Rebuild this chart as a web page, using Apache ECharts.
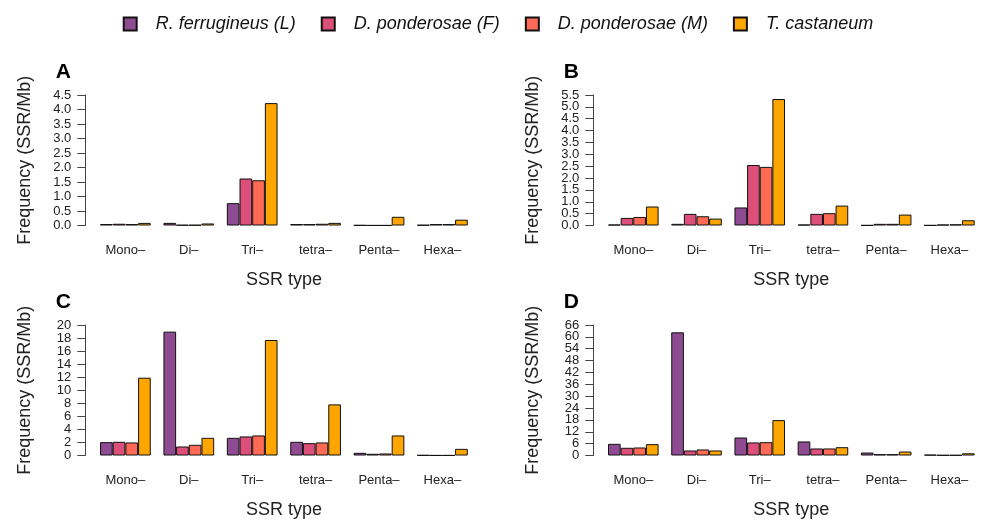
<!DOCTYPE html>
<html>
<head>
<meta charset="utf-8">
<script src="https://cdn.jsdelivr.net/npm/echarts@6/dist/echarts.min.js"></script>
<style>
  html, body { margin: 0; padding: 0; background: #fff; }
  #chart { width: 981px; height: 523px; }
</style>
</head>
<body>
<div id="chart"></div>
<script>
// SSR types on the x axis
const categories = ['Mono–', 'Di–', 'Tri–', 'tetra–', 'Penta–', 'Hexa–'];
const species = ['R. ferrugineus (L)', 'D. ponderosae (F)', 'D. ponderosae (M)', 'T. castaneum'];
const colors = ['#8E4B91', '#DC4F7B', '#FF6A55', '#FFA500'];

// one row per species, one value per SSR type (SSR/Mb)
const panelA = [
  [0.05, 0.09, 0.77, 0.05, 0.01, 0.02],
  [0.06, 0.02, 1.62, 0.05, 0.005, 0.05],
  [0.05, 0.02, 1.56, 0.06, 0.005, 0.05],
  [0.09, 0.07, 4.22, 0.09, 0.30, 0.20]
];
const panelB = [
  [0.04, 0.07, 0.76, 0.04, 0.01, 0.01],
  [0.32, 0.49, 2.55, 0.49, 0.07, 0.04],
  [0.36, 0.39, 2.47, 0.52, 0.07, 0.05],
  [0.80, 0.29, 5.33, 0.84, 0.46, 0.22]
];
const panelC = [
  [2.05, 18.98, 2.71, 2.10, 0.41, 0.05],
  [2.10, 1.38, 2.92, 1.89, 0.26, 0.02],
  [2.00, 1.64, 3.07, 2.00, 0.31, 0.02],
  [11.92, 2.71, 17.70, 7.83, 3.07, 1.02]
];
const panelD = [
  [5.9, 62.3, 9.1, 7.1, 1.5, 0.4],
  [3.9, 2.53, 6.6, 3.55, 0.68, 0.2],
  [4.05, 3.04, 6.75, 3.55, 0.68, 0.2],
  [5.74, 2.53, 17.9, 4.2, 2.0, 1.1]
];

const panelLetters = ['A', 'B', 'C', 'D'];
const yMax = [4.5, 5.5, 20, 66];
const yStep = [0.5, 0.5, 2, 6];
const yDecimals = [1, 1, 0, 0];

const panels = [panelA, panelB, panelC, panelD];
const gridPos = [[93.7, 95], [601.7, 95], [93.7, 325], [601.7, 325]];
const font = '"Liberation Sans", Arial, Helvetica, sans-serif';

const chart = echarts.init(document.getElementById('chart'));

const grid = [], xAxis = [], yAxis = [], series = [], title = [];
panels.forEach((rows, p) => {
  grid.push({ left: gridPos[p][0], top: gridPos[p][1], width: 380.4, height: 130.5 });
  title.push({
    text: panelLetters[p], left: gridPos[p][0] - 43, top: gridPos[p][1] - 38,
    textStyle: { fontFamily: font, fontSize: 21, fontWeight: 'bold', color: '#000' }
  });
  xAxis.push({
    type: 'category', gridIndex: p, data: categories,
    axisLine: { show: false }, axisTick: { show: false },
    axisLabel: { margin: 18, fontFamily: font, fontSize: 13, color: '#222' },
    name: 'SSR type', nameLocation: 'middle', nameGap: 46,
    nameTextStyle: { fontFamily: font, fontSize: 18, color: '#222' }
  });
  const labelStyle = {
    margin: 14, fontFamily: font, fontSize: 13, color: '#222',
    formatter: v => v.toFixed(yDecimals[p])
  };
  // inner ticks (the end labels are dropped here, echarts would hide their neighbours)
  yAxis.push({
    type: 'value', gridIndex: p, position: 'left', min: 0, max: yMax[p], interval: yStep[p], offset: 8.4,
    axisLine: { show: true, lineStyle: { color: '#444', width: 1 } },
    axisTick: { show: true, length: 8, lineStyle: { color: '#444' } },
    splitLine: { show: false },
    axisLabel: Object.assign({ showMinLabel: false, showMaxLabel: false }, labelStyle),
    name: 'Frequency (SSR/Mb)', nameLocation: 'middle', nameGap: 51,
    nameTextStyle: { fontFamily: font, fontSize: 18, color: '#222' }
  });
  // end ticks 0 and max on an overlaid axis
  yAxis.push({
    type: 'value', gridIndex: p, position: 'left', min: 0, max: yMax[p], interval: yMax[p], offset: 8.4,
    axisLine: { show: false },
    axisTick: { show: true, length: 8, lineStyle: { color: '#444' } },
    splitLine: { show: false },
    axisLabel: labelStyle
  });
  rows.forEach((vals, s) => {
    series.push({
      type: 'bar', name: species[s], xAxisIndex: p, yAxisIndex: p * 2, data: vals,
      barGap: '0%', barCategoryGap: '20%',
      itemStyle: { color: colors[s], borderColor: '#111', borderWidth: 1 },
      emphasis: { disabled: true }, animation: false
    });
  });
});

chart.setOption({
  backgroundColor: '#fff',
  animation: false,
  title: title,
  legend: {
    data: species, left: 117.7, top: 10, icon: 'rect',
    itemWidth: 13, itemHeight: 13, itemGap: 25,
    textStyle: { fontFamily: font, fontSize: 18, fontStyle: 'italic', color: '#111', padding: [0, 0, 0, 14] }
  },
  grid: grid, xAxis: xAxis, yAxis: yAxis, series: series
});
</script>
</body>
</html>
